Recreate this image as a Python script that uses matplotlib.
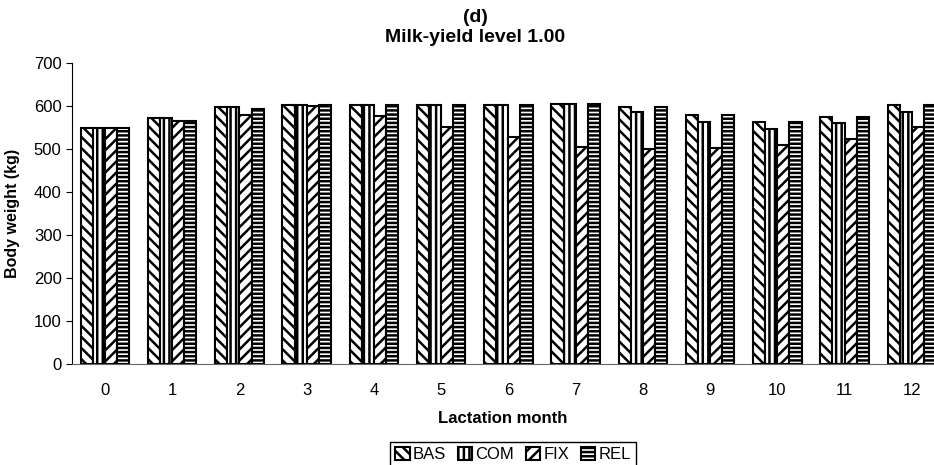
import numpy as np
import matplotlib
matplotlib.use('Agg')
import matplotlib.pyplot as plt

plt.rcParams['font.family'] = ['Liberation Sans', 'DejaVu Sans']
plt.rcParams['hatch.linewidth'] = 1.8

# 数据
months = [0, 1, 2, 3, 4, 5, 6, 7, 8, 9, 10, 11, 12]
bas = [548, 573, 598, 603, 603, 603, 603, 604, 598, 579, 562, 575, 602]
com = [548, 573, 598, 603, 603, 603, 603, 604, 585, 563, 546, 560, 587]
fix = [548, 566, 580, 600, 577, 552, 527, 504, 499, 502, 509, 524, 550]
rel = [548, 566, 592, 603, 603, 603, 603, 604, 598, 579, 562, 575, 602]

series = [('BAS', bas, '\\\\\\'), ('COM', com, '|||'), ('FIX', fix, '///'), ('REL', rel, '----')]

fig = plt.figure(figsize=(9.34, 4.65), dpi=100)
ax = fig.add_axes([72 / 934, 101 / 465, (934 - 72) / 934, 301 / 465])

x = np.arange(len(months))
gw = 0.72
w = gw / 4
for i, (name, vals, hatch) in enumerate(series):
    ax.bar(x - gw / 2 + w * (i + 0.5), vals, w, facecolor='white', edgecolor='black',
           hatch=hatch, linewidth=1.5, label=name)

ax.set_xlim(-0.49, 12.33)
ax.set_ylim(0, 700)
ax.set_yticks(range(0, 701, 100))
ax.set_xticks(x)
ax.set_xticklabels([str(m) for m in months])
ax.tick_params(axis='both', labelsize=12)
ax.tick_params(axis='x', length=0, pad=14)
ax.tick_params(axis='y', direction='out', length=4)
ax.spines['top'].set_visible(False)
ax.spines['right'].set_visible(False)
ax.spines['bottom'].set_color('#666666')
ax.set_xlabel('Lactation month', fontsize=12, fontweight='bold', labelpad=9)
ax.set_ylabel('Body weight (kg)', fontsize=11.5, fontweight='bold', labelpad=10)

fig.text(475 / 934, 1 - 18 / 465, '(d)', ha='center', va='center', fontsize=14, fontweight='bold')
fig.text(475 / 934, 1 - 37 / 465, 'Milk-yield level 1.00', ha='center', va='center',
         fontsize=14, fontweight='bold')

leg = fig.legend(loc='upper center', bbox_to_anchor=(513 / 934, 23 / 465), ncol=4, fontsize=12,
                 handlelength=0.85, handleheight=0.85, handletextpad=0.2, columnspacing=0.7,
                 borderpad=0.3, borderaxespad=0, fancybox=False, edgecolor='black', framealpha=1)
leg.get_frame().set_linewidth(1.0)

fig.savefig('out.png', dpi=100)
